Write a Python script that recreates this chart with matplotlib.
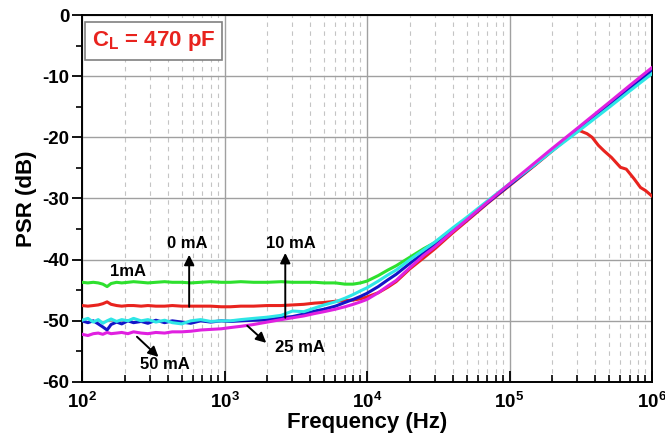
import matplotlib
matplotlib.use("Agg")
import matplotlib.pyplot as plt
from matplotlib.ticker import FixedLocator, NullFormatter
import numpy as np

plt.rcParams['font.family'] = ['Liberation Sans', 'DejaVu Sans']
plt.rcParams['mathtext.fontset'] = 'custom'
plt.rcParams['mathtext.rm'] = 'Liberation Sans:bold'
plt.rcParams['mathtext.bf'] = 'Liberation Sans:bold'
plt.rcParams['mathtext.it'] = 'Liberation Sans:bold'

# ---------------- data ----------------
freq = [100, 110, 120, 130, 140, 150, 160, 175, 190, 210, 230, 260, 290, 330, 380,
        430, 500, 580, 680, 800, 950, 1100, 1300, 1600, 2000, 2500, 3000, 3600, 4300,
        5000, 6000, 7000, 8000, 9000, 10000, 12000, 14000, 16000, 20000, 25000, 30000,
        40000, 50000, 70000, 100000, 150000, 200000, 300000, 500000, 700000, 1000000]

psr_1mA = [-43.7, -43.8, -43.7, -43.8, -44.0, -44.4, -43.9, -43.7, -43.8, -43.7, -43.6,
           -43.7, -43.8, -43.7, -43.6, -43.7, -43.7, -43.8, -43.7, -43.6, -43.7, -43.7,
           -43.6, -43.7, -43.7, -43.6, -43.7, -43.7, -43.7, -43.8, -43.8, -44.0, -44.0,
           -43.8, -43.5, -42.6, -41.7, -41.0, -39.6, -38.2, -37.2, -35.0, -33.3, -30.6,
           -27.7, -24.4, -22.0, -18.8, -14.7, -12.0, -9.2]

# 0 mA (red) up to 200 kHz, then its own high-frequency tail
psr_0mA = [-47.5, -47.6, -47.5, -47.4, -47.2, -46.9, -47.3, -47.5, -47.6, -47.5, -47.5,
           -47.6, -47.5, -47.6, -47.6, -47.5, -47.6, -47.6, -47.6, -47.6, -47.7, -47.7,
           -47.6, -47.6, -47.5, -47.5, -47.4, -47.3, -47.1, -47.0, -46.8, -46.7, -46.6,
           -46.4, -46.1, -45.4, -44.5, -43.6, -41.5, -39.7, -38.2, -35.6, -33.7, -30.8,
           -27.9, -24.6, -22.2]
freq_0mA_tail = [280000, 310000, 350000, 380000, 420000, 460000, 520000, 600000,
                 660000, 750000, 830000, 900000, 1000000]
psr_0mA_tail = [-19.3, -18.9, -19.4, -20.0, -21.3, -22.2, -23.3, -24.9, -25.2, -26.8,
                -28.2, -28.7, -29.6]

psr_25mA = [-50.0, -50.3, -50.0, -50.5, -51.0, -51.5, -50.6, -50.2, -50.5, -50.0, -50.3,
            -50.1, -50.4, -49.9, -50.3, -50.0, -50.2, -50.4, -50.0, -50.2, -50.0, -50.1,
            -50.0, -49.9, -49.8, -49.5, -49.3, -48.9, -48.4, -48.1, -47.6, -47.0, -46.5,
            -46.0, -45.5, -44.4, -43.3, -42.4, -40.6, -38.9, -37.6, -35.3, -33.5, -30.7,
            -27.8, -24.5, -22.1, -18.9, -14.8, -12.0, -9.0]

psr_10mA = [-49.9, -49.6, -50.2, -49.8, -50.4, -50.0, -49.7, -50.1, -49.8, -50.0, -49.6,
            -50.0, -49.8, -50.2, -49.9, -50.3, -50.5, -50.0, -49.8, -50.1, -50.0, -50.0,
            -49.8, -49.6, -49.4, -49.1, -48.4, -48.5, -47.9, -47.4, -46.9, -46.3, -45.7,
            -45.1, -44.6, -43.5, -42.5, -41.7, -40.0, -38.4, -37.1, -34.8, -33.1, -30.4,
            -27.6, -24.5, -22.2, -19.1, -15.1, -12.4, -9.6]

psr_50mA = [-52.2, -52.4, -52.1, -52.0, -52.2, -51.9, -52.1, -52.0, -51.9, -52.1, -51.8,
            -52.0, -52.1, -51.9, -52.0, -51.8, -51.8, -51.7, -51.5, -51.4, -51.3, -51.1,
            -50.9, -50.6, -50.2, -49.8, -49.5, -49.2, -48.8, -48.5, -48.1, -47.7, -47.3,
            -46.9, -46.5, -45.4, -44.3, -43.4, -41.3, -39.3, -37.9, -35.4, -33.5, -30.6,
            -27.6, -24.2, -21.8, -18.5, -14.3, -11.5, -8.6]

yticks = [0, -10, -20, -30, -40, -50, -60]
ytick_labels = ['0', '-10', '-20', '-30', '-40', '-50', '-60']
xticks = [1e2, 1e3, 1e4, 1e5, 1e6]
xtick_labels = [r'$\mathbf{10^{2}}$', r'$\mathbf{10^{3}}$', r'$\mathbf{10^{4}}$',
                r'$\mathbf{10^{5}}$', r'$\mathbf{10^{6}}$']

# ---------------- plot ----------------
fig = plt.figure(figsize=(6.65, 4.36), dpi=100)
ax = fig.add_axes([82/665, 1 - 382/436, 570/665, 367/436])

lw = 2.2
n0 = len(psr_0mA)
ax.plot(freq[:n0] + freq_0mA_tail, psr_0mA + psr_0mA_tail, color='#e8231e', lw=lw, zorder=3)
ax.plot(freq, psr_1mA, color='#2ee02e', lw=lw, zorder=3)
ax.plot(freq, psr_25mA, color='#1414c8', lw=lw, zorder=3)
ax.plot(freq, psr_10mA, color='#2ee6e6', lw=lw, zorder=3)
ax.plot(freq, psr_50mA, color='#e020e0', lw=lw, zorder=3)

ax.set_xscale('log')
ax.set_xlim(1e2, 1e6)
ax.set_ylim(-60, 0)

ax.xaxis.set_major_locator(FixedLocator(xticks))
ax.set_xticklabels(xtick_labels)
minor_x = [m * 10**d for d in range(2, 6) for m in range(2, 10)]
ax.xaxis.set_minor_locator(FixedLocator(minor_x))
ax.xaxis.set_minor_formatter(NullFormatter())
ax.set_yticks(yticks)
ax.set_yticklabels(ytick_labels)
ax.yaxis.set_minor_locator(FixedLocator([-5, -15, -25, -35, -45, -55]))

ax.tick_params(axis='x', which='major', direction='in', length=8, width=1.3,
               labelsize=13.5, pad=7)
ax.tick_params(axis='x', which='minor', direction='in', length=5, width=1.2)
ax.tick_params(axis='y', which='major', direction='out', length=7, width=1.3,
               labelsize=13.5, pad=2)
ax.tick_params(axis='y', which='minor', direction='out', length=4.5, width=1.2)
for lab in ax.get_yticklabels():
    lab.set_fontweight('bold')

for s in ax.spines.values():
    s.set_linewidth(1.4)

ax.set_axisbelow(True)
ax.grid(which='major', color='#a0a0a0', lw=1.0, ls='-')
ax.xaxis.grid(which='minor', color='#c4c4c4', lw=0.8, ls=(0, (4, 4)))

ax.set_xlabel('Frequency (Hz)', fontsize=16, fontweight='bold', labelpad=0)
ax.set_ylabel('PSR (dB)', fontsize=16, fontweight='bold', labelpad=4)

# box label
ax.text(0.125, 0.929, r'$\mathbf{C_{L}}$ = 470 pF', transform=ax.transAxes,
        ha='center', va='center', fontsize=16, fontweight='bold', color='#e8231e',
        bbox=dict(boxstyle='square,pad=0.3', fc='white', ec='#808080', lw=1.2),
        zorder=5)

# annotations
tkw = dict(fontsize=12, fontweight='bold', ha='center', va='center', zorder=6)
akw = dict(arrowstyle='-|>', color='black', lw=1.4, mutation_scale=15,
           shrinkA=0, shrinkB=0)
ax.text(210, -42.0, '1mA', **tkw)
ax.text(552, -37.4, '0 mA', **tkw)
ax.annotate('', xy=(565, -39.2), xytext=(565, -47.7), arrowprops=akw, zorder=6)
ax.text(2900, -37.3, '10 mA', **tkw)
ax.annotate('', xy=(2670, -38.9), xytext=(2670, -49.5), arrowprops=akw, zorder=6)
ax.text(3380, -54.4, '25 mA', **tkw)
ax.annotate('', xy=(1963, -53.6), xytext=(1445, -50.8), arrowprops=akw, zorder=6)
ax.text(380, -57.2, '50 mA', **tkw)
ax.annotate('', xy=(344, -55.9), xytext=(243, -52.6), arrowprops=akw, zorder=6)

fig.savefig('out.png', dpi=100)
